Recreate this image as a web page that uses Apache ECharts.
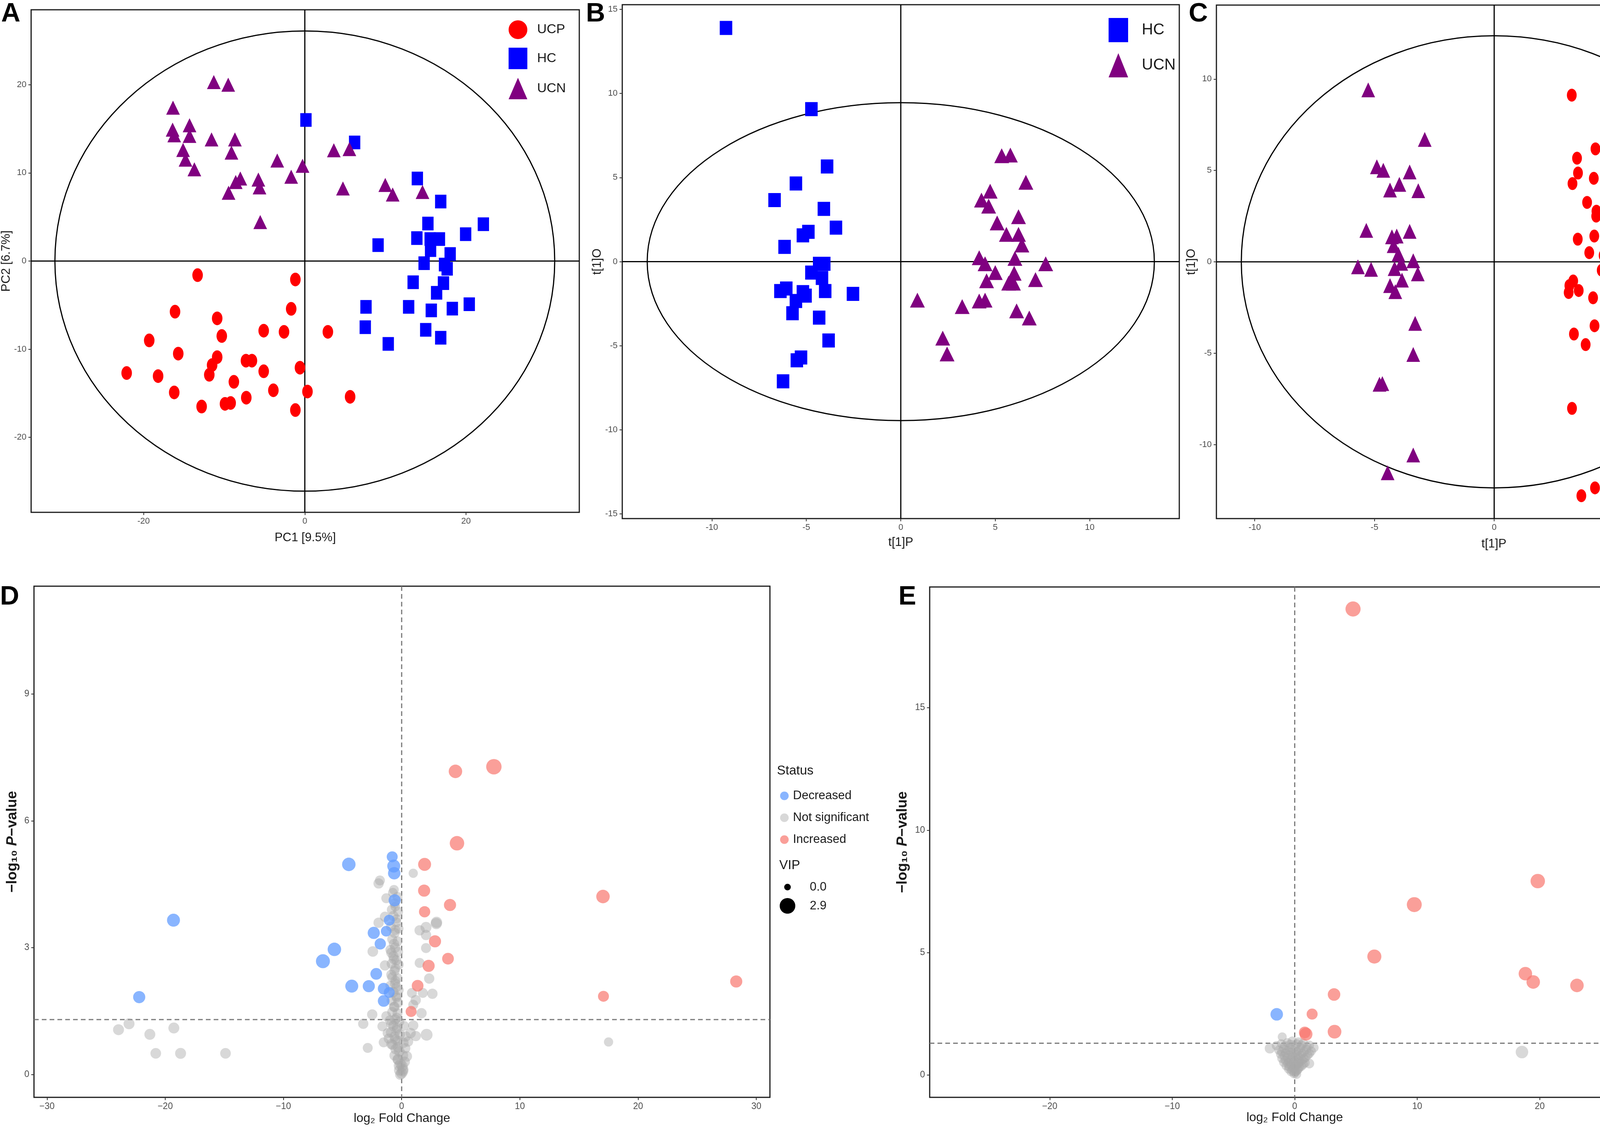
<!DOCTYPE html>
<html>
<head>
<meta charset="utf-8">
<title>PCA / OPLS-DA / volcano</title>
<script src="https://cdn.jsdelivr.net/npm/echarts@6/dist/echarts.min.js"></script>
<style>
html, body { margin: 0; padding: 0; background: #fff; }
#main { width: 4550px; height: 2889px; }
</style>
</head>
<body>
<div id="main"></div>
<script>
// ---- panel A : PCA scores (PC1, PC2) ----
var pcaUCP = [[-13.3,-1.6],[-1.17,-2.09],[-16.1,-5.74],[-1.69,-5.42],[-10.87,-6.5],[-19.3,-9.0],[-10.3,-8.5],[-5.1,-7.9],[-2.58,-8.03],[2.86,-8.03],[-15.7,-10.5],[-10.87,-10.9],[-11.5,-11.8],[-7.3,-11.3],[-6.56,-11.3],[-0.6,-12.1],[-22.1,-12.7],[-18.2,-13.05],[-11.85,-12.9],[-5.1,-12.5],[-8.8,-13.7],[-16.2,-14.9],[-3.9,-14.66],[0.33,-14.8],[5.62,-15.4],[-7.26,-15.5],[-12.8,-16.5],[-9.9,-16.2],[-9.2,-16.1],[-1.17,-16.9]];
var pcaHC = [[0.14,16.0],[6.18,13.45],[13.96,9.36],[16.86,6.75],[22.15,4.18],[9.09,1.81],[15.27,4.26],[13.9,2.6],[15.55,2.49],[16.7,2.49],[19.95,3.05],[15.6,1.24],[18.03,0.8],[14.8,-0.24],[17.33,-0.4],[17.66,-0.88],[13.44,-2.4],[17.2,-2.5],[16.35,-3.6],[7.59,-5.2],[12.88,-5.2],[15.69,-5.6],[18.3,-5.4],[20.4,-4.9],[7.5,-7.5],[15.0,-7.8],[16.86,-8.7],[10.35,-9.4]];
var pcaUCN = [[-11.29,20.3],[-9.5,20.0],[-16.35,17.4],[-16.4,14.9],[-16.2,14.26],[-14.3,15.4],[-14.3,14.2],[-11.57,13.8],[-8.67,13.8],[-15.1,12.6],[-9.1,12.3],[-14.8,11.5],[-13.7,10.4],[-3.42,11.4],[-0.28,10.8],[-1.69,9.56],[-8.0,9.36],[-8.57,8.96],[-5.76,9.24],[-5.62,8.35],[-9.46,7.75],[3.6,12.57],[5.53,12.7],[4.73,8.23],[9.98,8.63],[10.9,7.55],[14.6,7.83],[-5.53,4.42]];
var ellipseA = [31.0, 26.1];

// ---- panel B : OPLS-DA HC vs UCN ----
var oplsHC_B = [[-9.25,13.9],[-4.73,9.07],[-3.9,5.66],[-5.55,4.65],[-6.68,3.66],[-4.07,3.14],[-3.43,2.02],[-5.18,1.56],[-4.89,1.77],[-6.15,0.88],[-4.32,-0.13],[-4.05,-0.13],[-4.73,-0.65],[-4.17,-0.97],[-6.37,-1.75],[-6.06,-1.6],[-5.18,-1.81],[-5.04,-2.02],[-4.0,-1.75],[-5.55,-2.34],[-2.53,-1.92],[-5.73,-3.07],[-4.32,-3.33],[-3.82,-4.69],[-5.28,-5.7],[-5.5,-5.87],[-6.23,-7.12]];
var oplsUCN_B = [[5.34,6.3],[5.8,6.34],[6.62,4.72],[4.73,4.19],[4.27,3.66],[4.65,3.3],[5.1,2.3],[6.23,2.67],[5.59,1.62],[6.23,1.62],[6.41,0.99],[4.15,0.23],[6.04,0.19],[4.46,-0.13],[7.67,-0.13],[5.0,-0.65],[6.0,-0.69],[4.54,-1.14],[5.71,-1.28],[5.96,-1.28],[7.13,-1.07],[0.88,-2.29],[3.25,-2.67],[4.15,-2.34],[4.46,-2.29],[6.13,-2.93],[6.8,-3.35],[2.22,-4.55],[2.45,-5.49]];
var ellipseB = [13.42, 9.45];

// ---- panel C : OPLS-DA UCP vs UCN ----
var oplsUCP_C = [[3.24,9.12],[4.23,6.18],[4.73,6.27],[3.46,5.67],[3.5,4.86],[4.16,4.57],[3.27,4.28],[3.88,3.25],[4.27,2.77],[4.26,2.5],[5.4,2.69],[3.49,1.24],[4.18,1.41],[4.89,1.28],[3.97,0.5],[4.57,0.35],[5.59,-0.23],[4.49,-0.46],[3.3,-1.05],[3.14,-1.3],[3.11,-1.68],[3.53,-1.57],[4.13,-1.97],[4.19,-3.5],[3.33,-3.95],[3.82,-4.53],[4.71,-6.27],[3.25,-8.02],[4.21,-12.37],[3.64,-12.8]];
var oplsUCN_C = [[-5.26,9.41],[-2.9,6.7],[-4.9,5.2],[-4.63,5.01],[-3.53,4.92],[-3.96,4.24],[-4.35,3.93],[-3.17,3.89],[-5.34,1.72],[-3.53,1.67],[-4.27,1.37],[-4.07,1.41],[-4.2,0.89],[-4.0,0.41],[-3.38,0.06],[-3.88,-0.08],[-5.69,-0.27],[-5.14,-0.41],[-4.16,-0.37],[-3.19,-0.66],[-3.85,-1.0],[-4.35,-1.3],[-4.13,-1.63],[-3.3,-3.37],[-3.38,-5.07],[-4.79,-6.7],[-4.67,-6.66],[-3.38,-10.57],[-4.45,-11.54]];
var ellipseC = [10.56, 12.37];

// ---- panel D : volcano, [log2FC, -log10 p, VIP] ----
var volD_inc = [[7.8,7.28,2.8],[4.55,7.17,2.0],[4.68,5.47,2.4],[1.94,4.97,1.8],[1.9,4.35,1.5],[4.09,4.01,1.5],[1.94,3.85,1.2],[17.03,4.21,2.0],[2.82,3.15,1.5],[3.92,2.74,1.35],[2.28,2.57,1.5],[1.35,2.1,1.35],[0.8,1.49,1.1],[28.3,2.2,1.5],[17.07,1.85,1.1]];
var volD_dec = [[-0.8,5.15,1.1],[-4.47,4.97,2.0],[-0.67,4.93,1.8],[-0.63,4.76,1.6],[-0.59,4.12,1.5],[-19.3,3.65,1.8],[-1.05,3.65,1.1],[-1.31,3.39,1.0],[-2.36,3.35,1.5],[-1.81,3.09,1.2],[-5.69,2.96,2.0],[-6.66,2.68,2.2],[-2.15,2.38,1.35],[-4.22,2.09,1.8],[-2.78,2.09,1.5],[-1.52,2.03,1.35],[-1.05,1.94,1.1],[-1.52,1.74,1.35],[-22.2,1.83,1.5]];
var volD_ns = [[-23.95,1.06,1.1],[-23.06,1.2,1.1],[-21.3,0.95,1.1],[-19.27,1.1,1.1],[-20.8,0.5,1.0],[-18.7,0.5,1.1],[-14.9,0.5,1.0],[17.5,0.77,0.6],[2.95,3.6,1.2],
  [0.98,4.76,0.6],[-1.84,4.59,0.8],[-1.95,4.52,0.9],[-0.65,4.37,0.7],[-1.3,4.17,0.8],[-0.54,3.97,0.7],[-1.41,3.73,0.9],[-1.95,3.59,0.9],[-0.43,3.68,0.6],[2.93,3.57,1.2],[2.06,3.48,1.1],[1.52,3.41,0.9],[2.06,3.3,0.9],[-0.54,3.42,0.8],[-0.65,3.09,0.9],[-2.44,2.91,1.0],[-0.87,2.88,0.9],[2.06,2.99,0.8],[-0.65,2.73,0.9],[-1.41,2.58,0.9],[-0.54,2.51,0.8],[1.52,2.64,0.8],[-0.87,2.36,0.9],[-0.54,2.22,0.8],[2.33,2.27,0.9],[-0.43,2.07,0.8],[0.87,1.93,0.8],[2.6,1.91,0.9],[1.79,1.93,0.8],[-0.43,1.82,0.8],[1.19,1.76,0.9],[0.98,1.65,0.8],[-0.65,1.6,0.8],[-2.49,1.42,0.9],[1.68,1.45,0.9],[-0.43,1.34,0.9],[-1.3,1.38,0.8],[-3.25,1.2,0.9],[-0.87,1.2,0.9],[0.98,1.16,0.9],[-1.63,1.14,0.8],[-0.43,1.05,0.9],[-1.19,0.98,0.8],[0.76,0.98,0.9],[2.11,0.94,1.4],[1.19,0.91,0.9],[-0.54,0.83,0.9],[-1.52,0.76,0.8],[0.54,0.78,0.9],[-0.87,0.72,0.9],[-2.87,0.63,0.8],[-0.33,0.65,0.9],[0.43,0.43,1.0],[-0.33,0.36,1.0],[-0.22,0.21,1.0],[0.11,0.12,1.1],[0.0,0.03,1.1],[-0.11,0.0,1.0],
  [-0.75,4.3,0.7],[-0.35,4.2,0.8],[-0.6,4.05,0.8],[-0.85,3.9,0.7],[-0.3,3.85,0.8],[-0.7,3.75,0.9],[-0.45,3.6,0.8],[-0.9,3.5,0.8],[-0.25,3.45,0.7],[-0.6,3.35,0.9],[-0.8,3.2,0.8],[-0.35,3.15,0.8],[-0.55,3.0,0.9],[-0.95,2.95,0.8],[-0.3,2.9,0.8],[-0.7,2.8,0.9],[-0.45,2.7,0.8],[-0.85,2.62,0.8],[-0.25,2.6,0.8],[-0.6,2.45,0.9],[-0.8,2.3,0.8],[-0.35,2.28,0.8],[-0.55,2.15,0.9],[-0.95,2.1,0.8],[-0.25,2.0,0.8],[-0.7,1.95,0.9],[-0.45,1.85,0.8],[-0.85,1.75,0.8],[-0.3,1.7,0.8],[-0.6,1.6,0.9],[-0.8,1.48,0.8],[-0.35,1.45,0.8],[-0.55,1.3,0.9],[-1.0,1.28,0.8],[-0.2,1.25,0.8],[-0.7,1.15,0.9],[-0.4,1.1,0.9],[0.2,1.15,0.8],[-0.9,1.0,0.9],[-0.15,0.95,0.9],[0.35,0.9,0.9],[-0.6,0.9,0.9],[-1.1,0.85,0.8],[-0.35,0.8,0.9],[0.15,0.75,0.9],[-0.75,0.7,0.9],[-0.5,0.6,1.0],[0.3,0.62,0.9],[-0.2,0.55,1.0],[-0.6,0.45,0.9],[0.1,0.45,1.0],[-0.3,0.35,1.0],[0.25,0.3,1.0],[-0.1,0.25,1.0],[0.05,0.2,1.1],[-0.2,0.1,1.0],[0.1,0.08,1.1]];

// ---- panel E : volcano, [log2FC, -log10 p, VIP] ----
var volE_inc = [[4.76,19.03,3.6],[19.84,7.92,3.2],[27.12,7.63,3.5],[9.76,6.96,3.5],[6.5,4.84,3.0],[18.83,4.14,2.7],[19.47,3.8,2.7],[23.04,3.66,2.7],[26.7,3.67,3.2],[3.21,3.29,2.2],[1.42,2.49,1.5],[3.25,1.77,2.8],[0.92,1.67,2.4],[0.82,1.74,1.8]];
var volE_dec = [[-1.47,2.48,2.2]];
var volE_ns = [[18.55,0.94,2.2],[-1.02,1.56,0.7],[-2.03,1.09,1.2],
  [-1.5,1.2,0.8],[-1.1,1.28,0.7],[-0.6,1.32,0.8],[-0.2,1.38,0.9],[0.3,1.35,0.8],[0.7,1.3,0.9],[1.2,1.22,0.8],[1.55,1.12,1.0],
  [-1.3,1.02,0.8],[-0.9,1.08,0.9],[-0.45,1.12,0.8],[0.05,1.15,0.9],[0.5,1.1,0.8],[0.95,1.05,0.9],[1.35,0.98,0.8],
  [-1.15,0.85,0.8],[-0.75,0.9,0.9],[-0.3,0.92,0.8],[0.15,0.95,0.9],[0.6,0.88,0.8],[1.05,0.82,0.9],
  [-1.05,0.68,0.8],[-0.6,0.72,0.9],[-0.15,0.75,0.9],[0.3,0.74,0.8],[0.75,0.68,0.9],[1.19,0.47,1.0],
  [-0.9,0.52,0.8],[-0.45,0.55,0.9],[0.0,0.58,0.9],[0.45,0.55,0.8],[0.85,0.5,0.8],
  [-0.7,0.38,0.8],[-0.3,0.4,0.9],[0.15,0.42,0.9],[0.55,0.36,0.8],
  [-0.5,0.25,0.8],[-0.1,0.27,0.9],[0.3,0.25,0.8],
  [-0.3,0.14,0.8],[0.1,0.15,0.9],[-0.05,0.06,0.9],[0.15,0.03,0.8],
  [-0.8,1.2,0.8],[-0.35,1.25,0.9],[0.15,1.28,0.8],[0.55,1.22,0.9],[1.0,1.15,0.8],
  [-1.05,0.95,0.9],[-0.6,1.0,0.8],[-0.15,1.02,0.9],[0.3,1.0,0.8],[0.75,0.95,0.9],[1.2,0.88,0.8],
  [-0.85,0.78,0.9],[-0.4,0.82,0.9],[0.05,0.84,0.8],[0.45,0.8,0.9],[0.9,0.72,0.8],
  [-0.75,0.6,0.9],[-0.3,0.64,0.9],[0.2,0.66,0.8],[0.6,0.62,0.9],
  [-0.55,0.48,0.9],[-0.1,0.5,0.9],[0.3,0.48,0.9],[0.7,0.44,0.8],
  [-0.45,0.34,0.9],[0.05,0.36,0.9],[0.4,0.33,0.8],[-0.2,0.2,0.9],[0.2,0.2,0.9],[0.0,0.12,0.9]];

// axis limits and tick values
var limA = { x: [-33.95, 34.05], y: [-28.5, 28.5] };
var limB = { x: [-14.74, 14.74], y: [-15.28, 15.28] };
var limC = { x: [-11.6, 11.58], y: [-14.05, 14.05] };
var limD = { x: [-31.1, 31.15], y: [-0.54, 11.55] };
var limE = { x: [-29.8, 29.8], y: [-0.91, 19.93] };
var ticksA = { x: [-20, 0, 20], y: [-20, -10, 0, 10, 20] };
var ticksB = { x: [-10, -5, 0, 5, 10], y: [-15, -10, -5, 0, 5, 10, 15] };
var ticksC = { x: [-10, -5, 0, 5, 10], y: [-10, -5, 0, 5, 10] };
var ticksD = { x: [-30, -20, -10, 0, 10, 20, 30], y: [0, 3, 6, 9] };
var ticksE = { x: [-20, -10, 0, 10, 20], y: [0, 5, 10, 15] };
var pCut = 1.3;          // -log10(0.05)
var vipMaxD = 2.9, vipMaxE = 3.9;

var SANS = "'Liberation Sans', Arial, Helvetica, sans-serif";
var ELLIPSE = 'path://M0,10A10,10 0 1,1 20,10A10,10 0 1,1 0,10Z';

function vipSize(vip, vmax) {
	var d0 = 17, d1 = 40;
	return Math.sqrt(d0 * d0 + (d1 * d1 - d0 * d0) * vip / vmax);
}

function minusSign(v) {
	return String(v).replace('-', '\u2212');
}

function makeAxis(gi, lim, ticks, name, gap, nameStyle, labelSize, fmt) {
	return {
		type : 'value',
		gridIndex : gi,
		min : lim[0],
		max : lim[1],
		name : name,
		nameLocation : 'middle',
		nameGap : gap,
		nameTextStyle : nameStyle,
		axisLine : { show : false, onZero : false },
		splitLine : { show : false },
		axisTick : {
			show : true,
			length : 7,
			customValues : ticks,
			lineStyle : { color : '#333', width : 2 }
		},
		axisLabel : {
			customValues : ticks,
			fontSize : labelSize,
			fontFamily : SANS,
			color : '#4d4d4d',
			margin : 12,
			formatter : fmt
		}
	};
}

// ellipse + zero cross for the score plots
function scoreFrame(gi, ell, lim) {
	return {
		type : 'custom',
		xAxisIndex : gi,
		yAxisIndex : gi,
		silent : true,
		z : 1,
		data : [[ell[0], ell[1]]],
		renderItem : function(params, api) {
			var c = api.coord([0, 0]);
			var s = api.size([api.value(0), api.value(1)]);
			var l = api.coord([lim.x[0], 0]), r = api.coord([lim.x[1], 0]);
			var t = api.coord([0, lim.y[1]]), b = api.coord([0, lim.y[0]]);
			var ln = { stroke : '#000', lineWidth : 3 };
			return {
				type : 'group',
				children : [
					{ type : 'ellipse', shape : { cx : c[0], cy : c[1], rx : s[0], ry : s[1] }, style : { fill : 'none', stroke : '#000', lineWidth : 3 } },
					{ type : 'line', shape : { x1 : l[0], y1 : l[1], x2 : r[0], y2 : r[1] }, style : ln },
					{ type : 'line', shape : { x1 : t[0], y1 : t[1], x2 : b[0], y2 : b[1] }, style : ln }
				]
			};
		}
	};
}

// dashed thresholds for the volcano plots
function volcanoFrame(gi, lim) {
	return {
		type : 'custom',
		xAxisIndex : gi,
		yAxisIndex : gi,
		silent : true,
		z : 1,
		data : [[0, pCut]],
		renderItem : function(params, api) {
			var l = api.coord([lim.x[0], api.value(1)]), r = api.coord([lim.x[1], api.value(1)]);
			var t = api.coord([api.value(0), lim.y[1]]), b = api.coord([api.value(0), lim.y[0]]);
			var ln = { stroke : '#7a7a7a', lineWidth : 3, lineDash : [12, 8] };
			return {
				type : 'group',
				children : [
					{ type : 'line', shape : { x1 : l[0], y1 : l[1], x2 : r[0], y2 : r[1] }, style : ln },
					{ type : 'line', shape : { x1 : t[0], y1 : t[1], x2 : b[0], y2 : b[1] }, style : ln }
				]
			};
		}
	};
}

function scores(gi, name, data, symbol, size, color) {
	return {
		name : name,
		type : 'scatter',
		xAxisIndex : gi,
		yAxisIndex : gi,
		data : data,
		symbol : symbol,
		symbolSize : size,
		itemStyle : { color : color, opacity : 1 },
		z : 3
	};
}

function volcano(gi, name, data, color, alpha, vmax) {
	return {
		name : name,
		type : 'scatter',
		xAxisIndex : gi,
		yAxisIndex : gi,
		data : data,
		symbol : 'circle',
		symbolSize : function(val) { return vipSize(val[2], vmax); },
		itemStyle : { color : color, opacity : alpha },
		z : 3
	};
}

var nameScore = { fontSize : 31, fontFamily : SANS, color : '#1a1a1a' };
var nameSans = { fontSize : 32, fontFamily : SANS, color : '#1a1a1a' };
var nameP = {
	fontFamily : SANS, color : '#1a1a1a',
	rich : {
		b : { fontSize : 37, fontWeight : 'bold', fontFamily : SANS, color : '#1a1a1a' },
		i : { fontSize : 37, fontWeight : 'bold', fontStyle : 'italic', fontFamily : SANS, color : '#1a1a1a' }
	}
};
var pName = '{b|\u2212log\u2081\u2080 }{i|P}{b|\u2212value}';

var gridBox = { show : true, borderColor : '#1a1a1a', borderWidth : 3, backgroundColor : 'transparent' };

function legendStatus(left, top, pad) {
	return {
		orient : 'vertical',
		left : left,
		top : top,
		padding : 0,
		itemWidth : 22,
		itemHeight : 22,
		itemGap : 25,
		icon : 'circle',
		selectedMode : false,
		data : ['Decreased', 'Not significant', 'Increased'],
		textStyle : { fontSize : 31, fontFamily : SANS, color : '#1a1a1a', padding : [0, 0, 0, pad] }
	};
}

function vipKey(x, yTitle, xDot, xTxt, y0, y1, vmax) {
	var txt = function(t, xx, yy, fs) {
		return { type : 'text', x : xx, y : yy, style : { text : t, fontSize : fs, fontFamily : SANS, fill : '#1a1a1a', align : 'left', verticalAlign : 'middle', textAlign : 'left', textVerticalAlign : 'middle' } };
	};
	return [
		txt('VIP', x, yTitle, 33),
		{ type : 'circle', shape : { cx : xDot, cy : y0, r : vipSize(0, vmax) / 2 }, style : { fill : '#000' } },
		{ type : 'circle', shape : { cx : xDot, cy : y1, r : vipSize(vmax, vmax) / 2 }, style : { fill : '#000' } },
		txt('0.0', xTxt, y0, 31),
		txt(vmax.toFixed(1), xTxt, y1, 31)
	];
}

var chart = echarts.init(document.getElementById('main'));

var panelTitle = function(t, left, top) {
	return { text : t, left : left, top : top, padding : 0, textStyle : { fontSize : 68, fontWeight : 'bold', fontFamily : SANS, color : '#000' } };
};

var option = {
	backgroundColor : '#fff',
	animation : false,
	title : [
		panelTitle('A', 3, 2), panelTitle('B', 1500, 2), panelTitle('C', 3043, 2),
		panelTitle('D', 0, 1494), panelTitle('E', 2300, 1494)
	],
	grid : [
		echarts.util.merge({ left : 76, top : 25, width : 1407, height : 1286 }, gridBox),
		echarts.util.merge({ left : 1593, top : 12, width : 1426, height : 1315 }, gridBox),
		echarts.util.merge({ left : 3114, top : 13, width : 1421, height : 1314 }, gridBox),
		echarts.util.merge({ left : 87, top : 1500, width : 1884, height : 1308 }, gridBox),
		echarts.util.merge({ left : 2380, top : 1502, width : 1869, height : 1306 }, gridBox)
	],
	xAxis : [
		makeAxis(0, limA.x, ticksA.x, 'PC1 [9.5%]', 50, nameScore, 22),
		makeAxis(1, limB.x, ticksB.x, 't[1]P', 46, nameScore, 22),
		makeAxis(2, limC.x, ticksC.x, 't[1]P', 50, nameScore, 22),
		makeAxis(3, limD.x, ticksD.x, 'log\u2082 Fold Change', 38, nameSans, 23, minusSign),
		makeAxis(4, limE.x, ticksE.x, 'log\u2082 Fold Change', 34, nameSans, 23, minusSign)
	],
	yAxis : [
		makeAxis(0, limA.y, ticksA.y, 'PC2 [6.7%]', 40, nameScore, 22),
		makeAxis(1, limB.y, ticksB.y, 't[1]O', 48, nameScore, 22),
		makeAxis(2, limC.y, ticksC.y, 't[1]O', 45, nameScore, 22),
		makeAxis(3, limD.y, ticksD.y, pName, 37, nameP, 23, minusSign),
		makeAxis(4, limE.y, ticksE.y, pName, 51, nameP, 23, minusSign)
	],
	legend : [
		{
			orient : 'vertical', left : 1302, top : 52, padding : 0,
			itemWidth : 48, itemHeight : 55, itemGap : 22, selectedMode : false,
			data : [{ name : 'UCP', icon : ELLIPSE }, { name : 'HC', icon : 'rect' }, { name : 'UCN', icon : 'triangle' }],
			textStyle : { fontSize : 34, fontFamily : SANS, color : '#1a1a1a', padding : [0, 0, 0, 20] }
		},
		{
			orient : 'vertical', left : 2838, top : 46, padding : 0,
			itemWidth : 50, itemHeight : 62, itemGap : 28, selectedMode : false,
			data : [{ name : 'HC', icon : 'rect' }, { name : 'UCN', icon : 'triangle' }],
			textStyle : { fontSize : 40, fontFamily : SANS, color : '#1a1a1a', padding : [0, 0, 0, 30] }
		},
		{
			orient : 'vertical', left : 4344, top : 50, padding : 0,
			itemWidth : 46, itemHeight : 54, itemGap : 27, selectedMode : false,
			data : [{ name : 'UCP', icon : ELLIPSE }, { name : 'UCN', icon : 'triangle' }],
			textStyle : { fontSize : 40, fontFamily : SANS, color : '#1a1a1a', padding : [0, 0, 0, 30] }
		},
		legendStatus(1997, 2021, 6),
		legendStatus(4273, 2022, 17)
	],
	graphic : [
		{ type : 'text', x : 1989, y : 1973, style : { text : 'Status', fontSize : 33, fontFamily : SANS, fill : '#1a1a1a', align : 'left', verticalAlign : 'middle', textAlign : 'left', textVerticalAlign : 'middle' } },
		{ type : 'text', x : 4257, y : 1977, style : { text : 'Status', fontSize : 33, fontFamily : SANS, fill : '#1a1a1a', align : 'left', verticalAlign : 'middle', textAlign : 'left', textVerticalAlign : 'middle' } }
	].concat(vipKey(1995, 2215, 2016, 2073, 2270, 2318, vipMaxD))
	 .concat(vipKey(4265, 2222, 4288, 4327, 2277, 2325, vipMaxE)),
	series : [
		scoreFrame(0, ellipseA, limA),
		scores(0, 'UCP', pcaUCP, ELLIPSE, [27, 35], '#ff0000'),
		scores(0, 'HC', pcaHC, 'rect', [29, 35], '#0000ff'),
		scores(0, 'UCN', pcaUCN, 'triangle', [35, 36], '#800080'),

		scoreFrame(1, ellipseB, limB),
		scores(1, 'HC', oplsHC_B, 'rect', [32, 36], '#0000ff'),
		scores(1, 'UCN', oplsUCN_B, 'triangle', [38, 38], '#800080'),

		scoreFrame(2, ellipseC, limC),
		scores(2, 'UCP', oplsUCP_C, ELLIPSE, [25, 33], '#ff0000'),
		scores(2, 'UCN', oplsUCN_C, 'triangle', [35, 38], '#800080'),

		volcanoFrame(3, limD),
		volcano(3, 'Not significant', volD_ns, '#a8a8a8', 0.45, vipMaxD),
		volcano(3, 'Decreased', volD_dec, '#619cff', 0.75, vipMaxD),
		volcano(3, 'Increased', volD_inc, '#f8766d', 0.7, vipMaxD),

		volcanoFrame(4, limE),
		volcano(4, 'Not significant', volE_ns, '#a8a8a8', 0.45, vipMaxE),
		volcano(4, 'Decreased', volE_dec, '#619cff', 0.75, vipMaxE),
		volcano(4, 'Increased', volE_inc, '#f8766d', 0.7, vipMaxE)
	]
};

chart.setOption(option);
</script>
</body>
</html>
